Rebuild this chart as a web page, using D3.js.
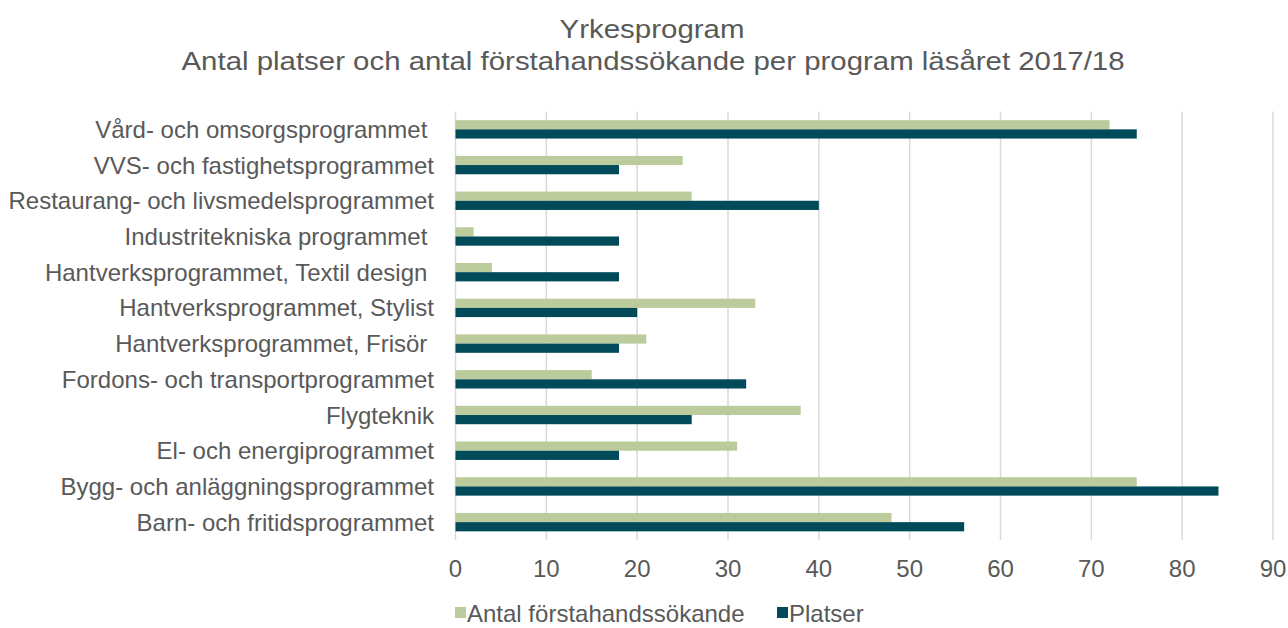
<!DOCTYPE html>
<html>
<head>
<meta charset="utf-8">
<script src="https://cdn.jsdelivr.net/npm/d3@7"></script>
<style>
body{margin:0;background:#fff;}
text{font-family:"Liberation Sans",Arial,sans-serif;fill:#595959;white-space:pre;}
</style>
</head>
<body>
<script>
var width=1288, height=628;

// data, top to bottom as shown
var categories=["Vård- och omsorgsprogrammet ","VVS- och fastighetsprogrammet","Restaurang- och livsmedelsprogrammet","Industritekniska programmet ","Hantverksprogrammet, Textil design ","Hantverksprogrammet, Stylist","Hantverksprogrammet, Frisör ","Fordons- och transportprogrammet","Flygteknik","El- och energiprogrammet","Bygg- och anläggningsprogrammet","Barn- och fritidsprogrammet"];
var sokande=[72,25,26,2,4,33,21,15,38,31,75,48];
var platser=[75,18,40,18,18,20,18,32,26,18,84,56];
var seriesNames=["Antal förstahandssökande","Platser"];
var seriesColors=["#bccb9c","#004a59"];
var ticks=[0,10,20,30,40,50,60,70,80,90];

var svg=d3.select("body").append("svg").attr("width",width).attr("height",height);

var x=d3.scaleLinear().domain([0,90]).range([455.5,1273]);
var y=d3.scaleBand().domain(categories).range([111.5,540]).paddingInner(0.485).paddingOuter(0.2425);
var ySub=d3.scaleBand().domain([0,1]).range([0,y.bandwidth()]);

// title
svg.append("text").attr("x",652).attr("y",38).attr("text-anchor","middle").attr("font-size",26)
  .attr("textLength",185).attr("lengthAdjust","spacingAndGlyphs").text("Yrkesprogram");
svg.append("text").attr("x",653).attr("y",70).attr("text-anchor","middle").attr("font-size",26)
  .attr("textLength",943).attr("lengthAdjust","spacingAndGlyphs").text("Antal platser och antal förstahandssökande per program läsåret 2017/18");

// gridlines
svg.append("g").selectAll("line").data(ticks).enter().append("line")
  .attr("x1",d=>x(d)).attr("x2",d=>x(d)).attr("y1",111.5).attr("y2",540)
  .attr("stroke","#d9d9d9").attr("stroke-width",1.5);

// tick labels
svg.append("g").selectAll("text").data(ticks).enter().append("text")
  .attr("x",d=>x(d)).attr("y",577).attr("text-anchor","middle").attr("font-size",24).text(d=>d);

// category labels
svg.append("g").selectAll("text").data(categories).enter().append("text")
  .attr("x",434).attr("y",d=>y(d)+y.bandwidth()/2+8.5).attr("text-anchor","end").attr("font-size",24).text(d=>d);

// bars
var series=[sokande,platser];
series.forEach(function(vals,s){
  svg.append("g").selectAll("rect").data(vals).enter().append("rect")
    .attr("x",x(0)).attr("y",(d,i)=>y(categories[i])+ySub(s))
    .attr("width",d=>x(d)-x(0)).attr("height",ySub.bandwidth())
    .attr("fill",seriesColors[s]);
});

// legend
var legX=[455,777];
seriesNames.forEach(function(n,s){
  svg.append("rect").attr("x",legX[s]).attr("y",607).attr("width",11).attr("height",11).attr("fill",seriesColors[s]);
  svg.append("text").attr("x",legX[s]+12).attr("y",622).attr("font-size",24).text(n);
});
</script>
</body>
</html>
